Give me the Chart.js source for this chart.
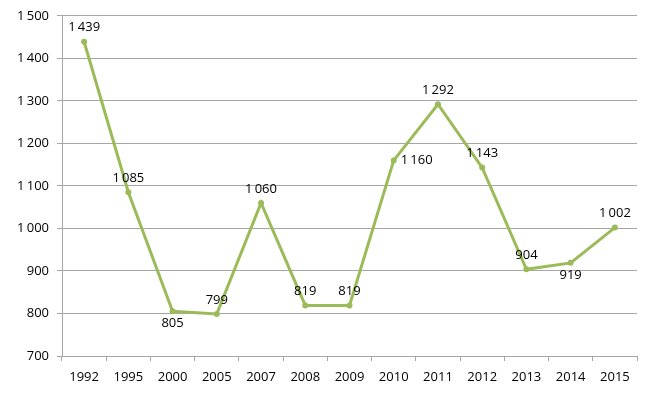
<!DOCTYPE html>
<html>
<head>
<meta charset="utf-8">
<script src="https://cdn.jsdelivr.net/npm/chart.js@4"></script>
<style>
  html, body { margin: 0; padding: 0; background: #fff; }
  #wrap { width: 650px; height: 398px; }
</style>
</head>
<body>
<div id="wrap"><canvas id="chart" width="650" height="398"></canvas></div>
<script>
// data
const years = ["1992", "1995", "2000", "2005", "2007", "2008", "2009", "2010", "2011", "2012", "2013", "2014", "2015"];
const values = [1439, 1085, 805, 799, 1060, 819, 819, 1160, 1292, 1143, 904, 919, 1002];
const labelSide = ["top", "top", "bottom", "top", "top", "top", "top", "right", "top", "top", "top", "bottom", "top"];

const FONT = "'Open Sans', 'Liberation Sans', sans-serif";

// 1439 -> "1 439"
function fmt(n) {
    return String(n).replace(/\B(?=(\d{3})+(?!\d))/g, "\u2009");
}

// simple data label plugin
const pointLabels = {
    id: "pointLabels",
    afterDatasetsDraw(chart) {
        const ctx = chart.ctx;
        const meta = chart.getDatasetMeta(0);
        ctx.save();
        ctx.font = "13px " + FONT;
        ctx.fillStyle = "#000";
        ctx.textBaseline = "middle";
        meta.data.forEach((pt, i) => {
            const side = labelSide[i];
            let x = pt.x, y = pt.y;
            ctx.textAlign = "center";
            if (side === "top") y -= 14;
            else if (side === "bottom") y += 12;
            else if (side === "right") { x += 7; ctx.textAlign = "left"; }
            ctx.fillText(fmt(values[i]), x, y);
        });
        ctx.restore();
    }
};

new Chart(document.getElementById("chart").getContext("2d"), {
    type: "line",
    data: {
        labels: years,
        datasets: [{
            data: values,
            borderColor: "#9bbb59",
            backgroundColor: "#9bbb59",
            borderWidth: 3,
            pointRadius: 3,
            pointBorderWidth: 0,
            tension: 0
        }]
    },
    options: {
        responsive: false,
        animation: false,
        layout: { padding: { top: 12, right: 13, left: 0, bottom: 0 } },
        plugins: {
            legend: { display: false },
            tooltip: { enabled: false }
        },
        scales: {
            x: {
                offset: true,
                grid: {
                    offset: true,
                    drawOnChartArea: false,
                    tickLength: 5,
                    color: "#a6a6a6"
                },
                border: { color: "#a6a6a6" },
                ticks: {
                    color: "#000",
                    font: { family: FONT, size: 13 },
                    padding: 8,
                    maxRotation: 0
                },
                afterFit(scale) { scale.height = 42; }
            },
            y: {
                min: 700,
                max: 1500,
                ticks: {
                    stepSize: 100,
                    color: "#000",
                    font: { family: FONT, size: 13 },
                    padding: 8,
                    callback: v => fmt(v)
                },
                grid: { color: "#a6a6a6", tickLength: 5 },
                border: { color: "#a6a6a6" },
                afterFit(scale) { scale.width = 62; }
            }
        }
    },
    plugins: [pointLabels]
});
</script>
</body>
</html>
